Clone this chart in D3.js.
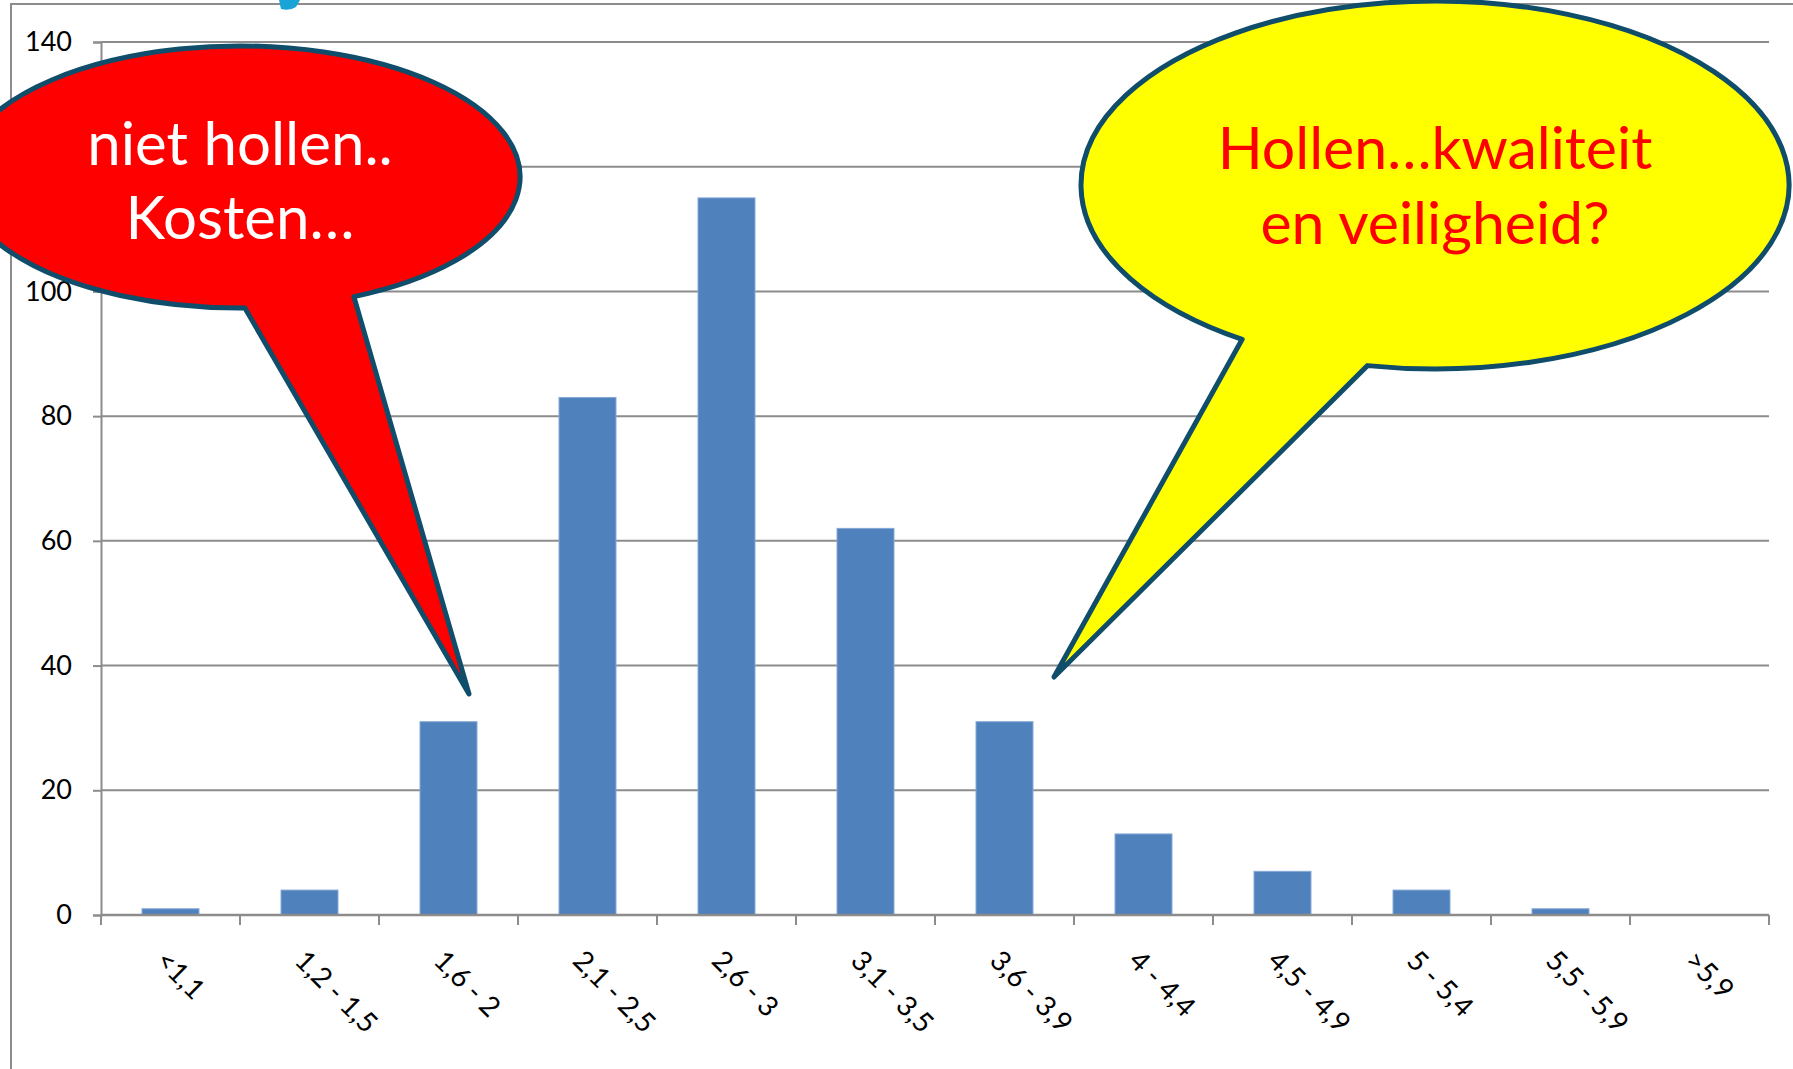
<!DOCTYPE html>
<html>
<head>
<meta charset="utf-8">
<script src="https://cdn.jsdelivr.net/npm/d3@7"></script>
<style>
  body { margin: 0; background: #fff; }
  text { font-family: Lato, "Open Sans", sans-serif; }
</style>
</head>
<body>
<div class="chart"></div>
<script>
const categories = ["<1,1", "1,2 - 1,5", "1,6 - 2", "2,1 - 2,5", "2,6 - 3", "3,1 - 3,5",
  "3,6 - 3,9", "4 - 4,4", "4,5 - 4,9", "5 - 5,4", "5,5 - 5,9", ">5,9"];
const counts = [1, 4, 31, 83, 115, 62, 31, 13, 7, 4, 1, 0];
const yTicks = [0, 20, 40, 60, 80, 100, 120, 140];

const W = 1793, H = 1069;
const margin = { top: 42, left: 101, right: 24, bottom: 154 };
const width = W - margin.left - margin.right;
const height = H - margin.top - margin.bottom;
const gridColor = "#8c8c8c";

const root = d3.select(".chart")
  .append("svg")
  .attr("width", W)
  .attr("height", H);

// outer chart frame (only top and left edges are visible in the crop)
root.append("path")
  .attr("d", `M11,${H} V4 H${W}`)
  .attr("fill", "none")
  .attr("stroke", gridColor)
  .attr("stroke-width", 2);

// tail of a cut-off title glyph at the very top
root.append("path")
  .attr("d", "M279,0 L300,0 L296,7 Q290,11 281,9 Z")
  .attr("fill", "#1aa3d6");

const svg = root.append("g")
  .attr("transform", `translate(${margin.left}, ${margin.top})`);

const xScale = d3.scaleBand()
  .domain(categories)
  .range([0, width])
  .paddingInner(0.59)
  .paddingOuter(0.295);

const yScale = d3.scaleLinear().domain([0, 140]).range([height, 0]);

// gridlines
svg.append("g")
  .selectAll("line")
  .data(yTicks.filter(d => d > 0))
  .join("line")
  .attr("x1", 0)
  .attr("x2", width)
  .attr("y1", d => yScale(d))
  .attr("y2", d => yScale(d))
  .attr("stroke", gridColor)
  .attr("stroke-width", 2);

// bars
svg.selectAll(".bar")
  .data(categories.map((c, i) => ({ cat: c, value: counts[i] })))
  .join("rect")
  .attr("class", "bar")
  .attr("fill", "#4F81BD")
  .attr("stroke", "#86a9d6")
  .attr("stroke-width", 1)
  .attr("x", d => xScale(d.cat))
  .attr("width", xScale.bandwidth())
  .attr("y", d => yScale(d.value))
  .attr("height", d => height - yScale(d.value));

// y axis
const yAxis = d3.axisLeft(yScale).tickValues(yTicks).tickSize(8).tickPadding(21);
svg.append("g")
  .attr("class", "axis y-axis")
  .call(yAxis)
  .call(g => g.select(".domain").attr("stroke", gridColor).attr("stroke-width", 2))
  .call(g => g.selectAll(".tick line").attr("stroke", gridColor).attr("stroke-width", 2))
  .call(g => g.selectAll("text")
    .attr("font-size", 27)
    .attr("font-family", "Lato, sans-serif")
    .attr("fill", "#000"));

// x axis: line with boundary ticks
const step = xScale.step();
const bounds = categories.map(c => xScale(c) - step * xScale.paddingInner() / 2).concat([width]);
svg.append("line")
  .attr("x1", 0).attr("x2", width)
  .attr("y1", height).attr("y2", height)
  .attr("stroke", gridColor).attr("stroke-width", 2.5);
svg.append("g")
  .selectAll("line")
  .data(bounds)
  .join("line")
  .attr("x1", d => d).attr("x2", d => d)
  .attr("y1", height).attr("y2", height + 10)
  .attr("stroke", gridColor).attr("stroke-width", 2);

const xAxis = d3.axisBottom(xScale).tickSize(0);
svg.append("g")
  .attr("class", "axis x-axis")
  .attr("transform", `translate(0, ${height})`)
  .call(xAxis)
  .call(g => g.select(".domain").remove())
  .call(g => g.selectAll("text")
    .attr("font-size", 28)
    .attr("font-family", "Lato, sans-serif")
    .attr("fill", "#000")
    .attr("text-anchor", "start")
    .attr("x", 0).attr("y", 0).attr("dy", "0.72em")
    .attr("transform", "translate(-2, 33) rotate(45)"));

// speech balloons
const callouts = [
  { cx: 240, cy: 177, rx: 280, ry: 131, a1: 89, a2: 66, tip: [469, 694],
    fill: "#FF0000", color: "#fff", size: 60, lines: ["niet hollen..", "Kosten…"], ys: [165, 239] },
  { cx: 1435, cy: 185, rx: 354, ry: 184, a1: 123, a2: 101, tip: [1054, 677],
    fill: "#FFFF00", color: "#FF0000", size: 59, lines: ["Hollen…kwaliteit", "en veiligheid?"], ys: [169, 244] }
];

function balloon(c) {
  const rad = Math.PI / 180;
  const p1 = [c.cx + c.rx * Math.cos(c.a1 * rad), c.cy + c.ry * Math.sin(c.a1 * rad)];
  const p2 = [c.cx + c.rx * Math.cos(c.a2 * rad), c.cy + c.ry * Math.sin(c.a2 * rad)];
  return `M${p1} A${c.rx},${c.ry} 0 1 1 ${p2} L${c.tip} Z`;
}

const notes = root.append("g").selectAll("g")
  .data(callouts)
  .join("g");

notes.append("path")
  .attr("d", balloon)
  .attr("fill", d => d.fill)
  .attr("stroke", "#0f4d6b")
  .attr("stroke-width", 5)
  .attr("stroke-linejoin", "round");

notes.each(function(d) {
  d3.select(this).selectAll("text")
    .data(d.lines)
    .join("text")
    .attr("x", d.cx)
    .attr("y", (t, i) => d.ys[i])
    .attr("text-anchor", "middle")
    .attr("font-size", d.size)
    .attr("fill", d.color)
    .text(t => t);
});
</script>
</body>
</html>
